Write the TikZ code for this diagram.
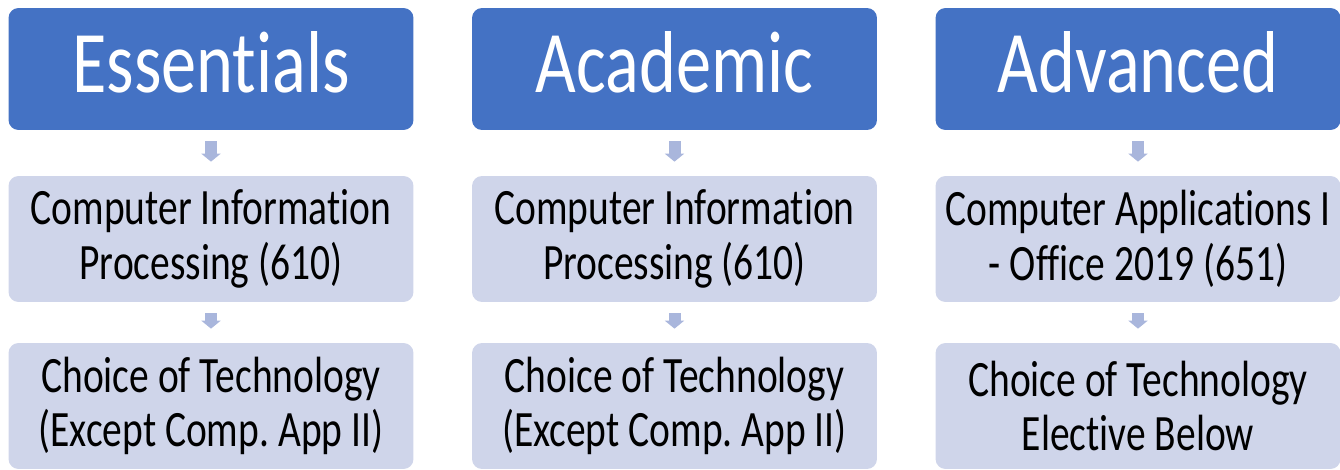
\documentclass[tikz,border=0pt]{standalone}
\usepackage{fontspec}
\setmainfont{Carlito}[FakeStretch=0.8, Ligatures={NoCommon}]
\usetikzlibrary{arrows.meta}
\definecolor{headblue}{HTML}{4472C4}
\definecolor{itemfill}{HTML}{CFD5EA}
\definecolor{flowblue}{HTML}{A9B6DC}
\frenchspacing

\begin{document}
\begin{tikzpicture}[x=0.02cm, y=-0.02cm,
  head/.style={fill=headblue, text=white, rounded corners=0.2cm, minimum width=8.1cm, minimum height=2.44cm, text depth=0.28cm, font=\fontsize{50}{52}\selectfont},
  item/.style={fill=itemfill, rounded corners=0.2cm, minimum width=8.1cm, minimum height=2.52cm, align=center, font=\fontsize{29}{31}\selectfont\addfontfeature{FakeStretch=0.775}},
  flow/.style={draw=flowblue, line width=0.24cm, -{Triangle[length=0.16cm, width=0.38cm]}, shorten <=0.22cm, shorten >=0.28cm}]
\useasboundingbox (0,0) rectangle (1340,470);

\node[head] (h1) at (211,69) {Essentials};
\node[head] (h2) at (674.5,69) {Academic};
\node[head] (h3) at (1138,69) {Advanced};

\node[item] (c1) at (211,239) {Computer Information\\Processing (610)};
\node[item] (c2) at (674.5,239) {Computer Information\\Processing (610)};
\node[item] (c3) at (1138,239) {Computer Applications I\\- Office 2019 (651)};

\node[item] (t1) at (211,406) {Choice of Technology\\(Except Comp. App II)};
\node[item] (t2) at (674.5,406) {Choice of Technology\\(Except Comp. App II)};
\node[item] (t3) at (1138,406) {Choice of Technology\\Elective Below};

\draw[flow] (h1) -- (c1);
\draw[flow] (h2) -- (c2);
\draw[flow] (h3) -- (c3);

\draw[flow] (c1) -- (t1);
\draw[flow] (c2) -- (t2);
\draw[flow] (c3) -- (t3);
\end{tikzpicture}
\end{document}
